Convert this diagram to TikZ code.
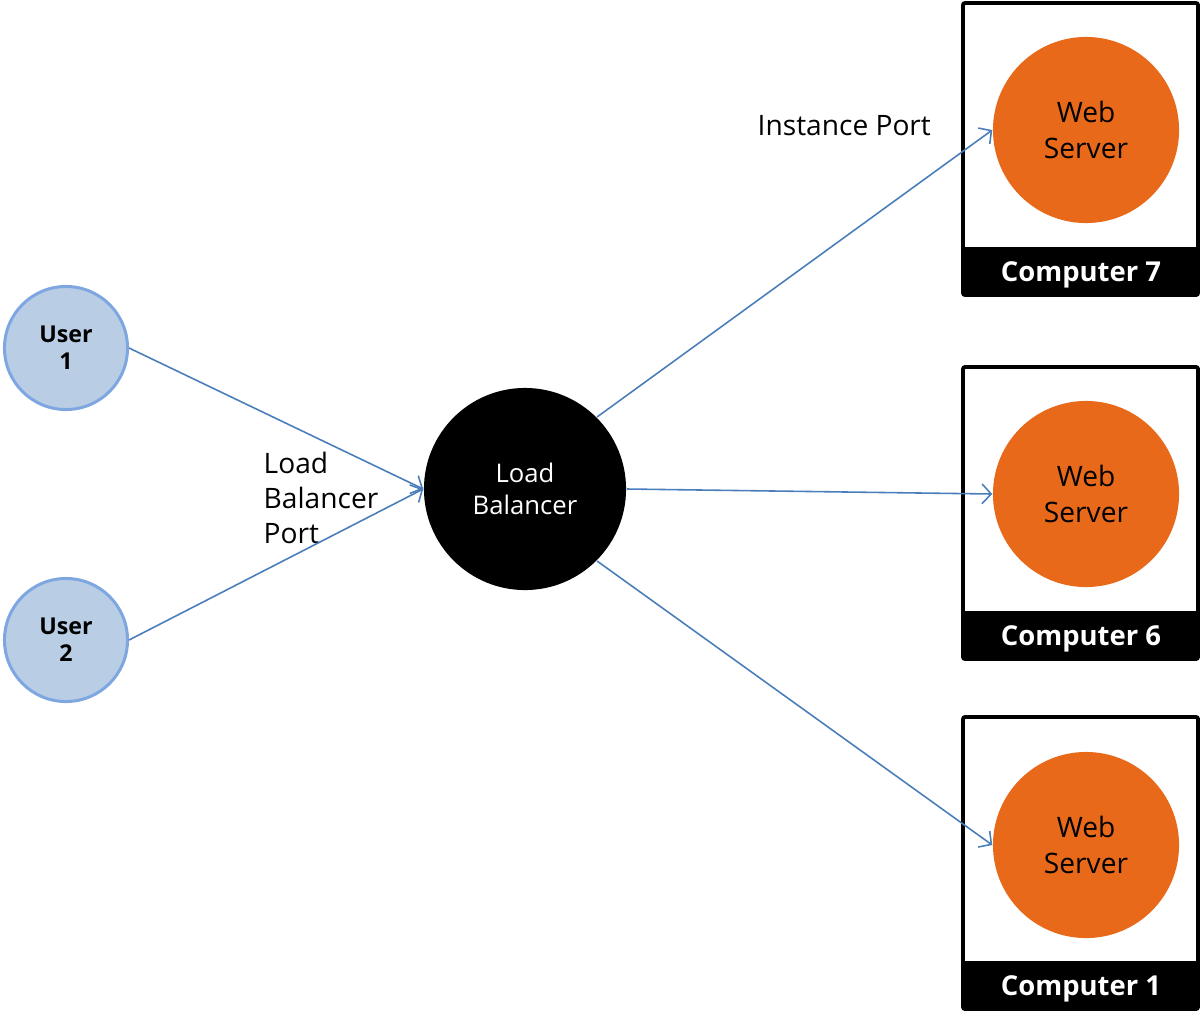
\documentclass[tikz,border=0pt]{standalone}
\usepackage{fontspec}
\setmainfont{Open Sans}
\usetikzlibrary{arrows.meta}
\definecolor{userfill}{HTML}{B9CDE5}
\definecolor{userdraw}{HTML}{7EA6E0}
\definecolor{wsorange}{HTML}{E8691A}
\definecolor{linkblue}{HTML}{4A7EBB}
\tikzset{
  user/.style={circle, fill=userfill, draw=userdraw, line width=0.85pt, minimum size=1.23cm, inner sep=0pt, align=center, font=\fontsize{6.6}{7.6}\selectfont\bfseries},
  lbnode/.style={circle, fill=black, minimum size=2.02cm, inner sep=0pt, align=center, text=white, font=\fontsize{7.3}{9}\selectfont},
  webserver/.style={circle, fill=wsorange, minimum size=1.86cm, inner sep=0pt, align=center, font=\fontsize{8}{10}\selectfont},
  computerbox/.style={draw=black, line width=1.1pt, rounded corners=0.6pt},
  computerbar/.style={text=white, font=\fontsize{7.8}{9}\selectfont\bfseries},
  link/.style={draw=linkblue, line width=0.45pt, -{Straight Barb[length=2.6pt,width=5.6pt,line width=0.45pt]}},
  portlabel/.style={align=left, anchor=north west, inner sep=0pt, font=\fontsize{8}{10}\selectfont},
}
\begin{document}
\begin{tikzpicture}[x=0.01cm,y=-0.01cm]
\useasboundingbox (0,0) rectangle (1201,1012);
% computers
\foreach \top/\name in {3/7, 367/6, 717/1}{
  \fill[black] (963,\top+244) rectangle (1198,\top+292);
  \draw[computerbox] (963,\top) rectangle (1198,\top+292);
  \node[computerbar] (c\name) at (1081,\top+272) {Computer \name};
}
\node[webserver] (ws7) at (1086,130) {Web\\Server};
\node[webserver] (ws6) at (1086,494) {Web\\Server};
\node[webserver] (ws1) at (1086,845) {Web\\Server};
\node[user] (u1) at (66,348) {User\\1};
\node[user] (u2) at (66,640) {User\\2};
\node[lbnode] (lb) at (525,489) {Load\\Balancer};
\node[portlabel] (lbp) at (263,451) {Load\\Balancer\\Port};
\node[font=\fontsize{8}{10}\selectfont, anchor=west, inner sep=0pt] (ip) at (757,126) {Instance Port};
\draw[link] (u1.east) -- (lb.west);
\draw[link] (u2.east) -- (lb.west);
\draw[link] (lb.north east) -- (ws7.west);
\draw[link] (lb.east) -- (ws6.west);
\draw[link] (lb.south east) -- (ws1.west);
\end{tikzpicture}
\end{document}
